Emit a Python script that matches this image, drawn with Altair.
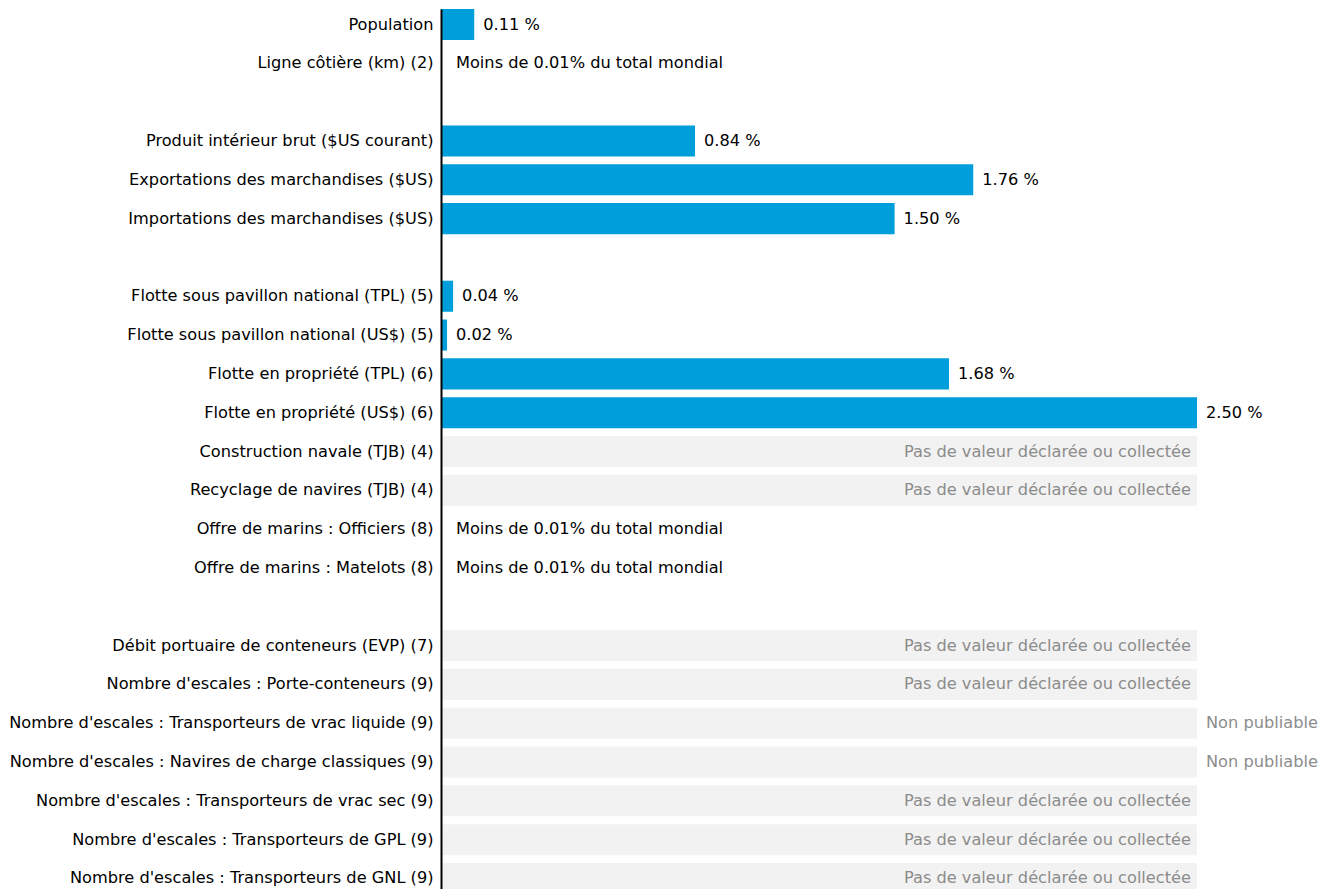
import altair as alt
import pandas as pd

categories = [
    "Population",
    "Ligne côtière (km) (2)",
    " ",
    "Produit intérieur brut ($US courant)",
    "Exportations des marchandises ($US)",
    "Importations des marchandises ($US)",
    "  ",
    "Flotte sous pavillon national (TPL) (5)",
    "Flotte sous pavillon national (US$) (5)",
    "Flotte en propriété (TPL) (6)",
    "Flotte en propriété (US$) (6)",
    "Construction navale (TJB) (4)",
    "Recyclage de navires (TJB) (4)",
    "Offre de marins : Officiers (8)",
    "Offre de marins : Matelots (8)",
    "   ",
    "Débit portuaire de conteneurs (EVP) (7)",
    "Nombre d'escales : Porte-conteneurs (9)",
    "Nombre d'escales : Transporteurs de vrac liquide (9)",
    "Nombre d'escales : Navires de charge classiques (9)",
    "Nombre d'escales : Transporteurs de vrac sec (9)",
    "Nombre d'escales : Transporteurs de GPL (9)",
    "Nombre d'escales : Transporteurs de GNL (9)",
]
values = [0.11, None, None, 0.84, 1.76, 1.50, None, 0.04, 0.02, 1.68, 2.50,
          None, None, None, None, None, None, None, None, None, None, None, None]
# status: v = value, lt = less than 0.01%, nd = no data, np = not publishable, b = blank
status = ["v", "lt", "b", "v", "v", "v", "b", "v", "v", "v", "v",
          "nd", "nd", "lt", "lt", "b", "nd", "nd", "np", "np", "nd", "nd", "nd"]

LT_TEXT = "Moins de 0.01% du total mondial"
ND_TEXT = "Pas de valeur déclarée ou collectée"
NP_TEXT = "Non publiable"

full = max(v for v in values if v is not None)

rows = []
for c, v, s in zip(categories, values, status):
    if s == "v":
        lab = f"{v:.2f} %"
    elif s == "lt":
        lab = LT_TEXT
    elif s == "nd":
        lab = ND_TEXT
    elif s == "np":
        lab = NP_TEXT
    else:
        lab = ""
    rows.append({"cat": c, "value": v, "status": s, "label": lab, "full": full, "zero": 0.0})
df = pd.DataFrame(rows)

FONT = "DejaVu Sans"
FS = 16.2

xscale = alt.Scale(domain=[0, full], nice=False, zero=True)
y = alt.Y("cat:N", sort=categories,
          scale=alt.Scale(domain=categories, paddingInner=0.2, paddingOuter=0.0),
          axis=alt.Axis(title=None, ticks=False, grid=False, domainColor="#000000",
                        domainWidth=2, labelFontSize=FS, labelFont=FONT, zindex=1,
                        labelColor="#000000", labelPadding=8, labelLimit=600))

base = alt.Chart(df)

bg = base.transform_filter("datum.status == 'nd' || datum.status == 'np'").mark_bar(
    color="#f2f2f2").encode(x=alt.X("full:Q", scale=xscale, axis=None), y=y)

bars = base.transform_filter("datum.status == 'v'").mark_bar(color="#009edb").encode(
    x=alt.X("value:Q", scale=xscale, axis=None), y=y)

vtext = base.transform_filter("datum.status == 'v'").mark_text(
    align="left", dx=9, font=FONT, fontSize=FS, color="#000000").encode(
    x=alt.X("value:Q", scale=xscale, axis=None), y=y, text="label:N")

lttext = base.transform_filter("datum.status == 'lt'").mark_text(
    align="left", dx=15, font=FONT, fontSize=FS, color="#000000").encode(
    x=alt.X("zero:Q", scale=xscale, axis=None), y=y, text="label:N")

ndtext = base.transform_filter("datum.status == 'nd'").mark_text(
    align="right", dx=-6, font=FONT, fontSize=FS, color="#8c8c8c").encode(
    x=alt.X("full:Q", scale=xscale, axis=None), y=y, text="label:N")

nptext = base.transform_filter("datum.status == 'np'").mark_text(
    align="left", dx=9, font=FONT, fontSize=FS, color="#8c8c8c").encode(
    x=alt.X("full:Q", scale=xscale, axis=None), y=y, text="label:N")

chart = alt.layer(bg, bars, vtext, lttext, ndtext, nptext).properties(
    width=756, height=885,
    padding={"left": 0, "top": 0, "right": 0, "bottom": 0},
).configure_view(stroke=None)

chart.save("out.html", embed_options={"renderer": "svg", "actions": False})
